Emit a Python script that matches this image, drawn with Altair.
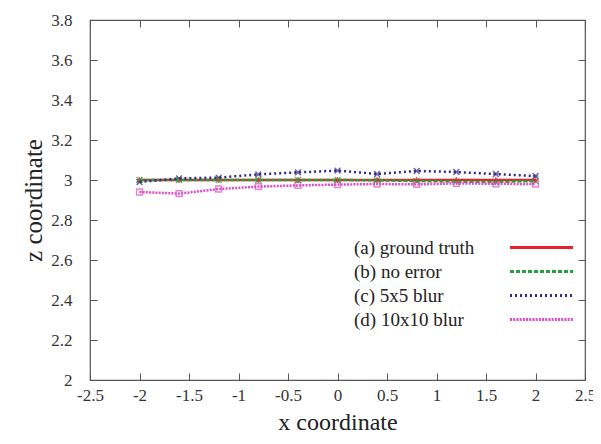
import altair as alt
import pandas as pd

x_vals = [-2.0, -1.6, -1.2, -0.8, -0.4, 0.0, 0.4, 0.8, 1.2, 1.6, 2.0]
series_labels = ["(a) ground truth", "(b) no error", "(c) 5x5 blur", "(d) 10x10 blur"]
z_ground = [3.0, 3.0, 3.0, 3.0, 3.0, 3.0, 3.0, 3.0, 3.0, 3.0, 3.0]
z_noerr = [3.0, 3.0, 3.0, 3.0, 3.0, 3.0, 2.998, 2.995, 2.992, 2.99, 2.995]
z_blur5 = [2.99, 3.008, 3.012, 3.028, 3.038, 3.047, 3.03, 3.045, 3.04, 3.03, 3.02]
z_blur10 = [2.94, 2.932, 2.955, 2.967, 2.973, 2.977, 2.98, 2.978, 2.983, 2.981, 2.98]

colors = ["#e8222a", "#22a040", "#2b2b8c", "#e04cc4"]
dashes = [[1, 0], [4, 2], [2, 3], [2, 1.2]]
widths = [3, 3, 2.5, 2]
marker_shapes = [
    "M-1,0L1,0M0,-1L0,1",
    "M-1,-1L1,1M-1,1L1,-1",
    "M-1,-1L1,1M-1,1L1,-1M-1,0L1,0",
    "square",
]

rows = []
for lab, vals in zip(series_labels, [z_ground, z_noerr, z_blur5, z_blur10]):
    for xv, zv in zip(x_vals, vals):
        rows.append({"x": xv, "z": zv, "series": lab})
df = pd.DataFrame(rows)

FONT = "Liberation Serif"
AXFONT = "Liberation Serif, Times New Roman, serif"
xscale = alt.Scale(domain=[-2.5, 2.5], nice=False, zero=False)
yscale = alt.Scale(domain=[2.0, 3.8], nice=False, zero=False)
x_ticks = [-2.5, -2, -1.5, -1, -0.5, 0, 0.5, 1, 1.5, 2, 2.5]
y_ticks = [2.0, 2.2, 2.4, 2.6, 2.8, 3.0, 3.2, 3.4, 3.6, 3.8]

NEG_TICK = {"expr": "-7"}
LBL = "replace(datum.label, '\u2212', '-')"
x_axis = alt.Axis(values=x_ticks, orient="bottom", tickSize=NEG_TICK, domain=False,
                  grid=False, labelPadding=14, labelFontSize=17, labelFont=AXFONT, format="~g",
                  labelExpr=LBL,
                  labelColor="#333", tickColor="#555", title="x coordinate",
                  titleFont=AXFONT, titleFontSize=24, titleFontWeight="normal",
                  titleColor="#222", titlePadding=7, labelFlush=False, labelOverlap=False)
y_axis = alt.Axis(values=y_ticks, orient="left", tickSize=NEG_TICK, domain=False,
                  grid=False, labelPadding=25, labelFontSize=17, labelFont=AXFONT, format="~g",
                  labelExpr=LBL,
                  labelColor="#333", tickColor="#555", title="z coordinate",
                  titleFont=AXFONT, titleFontSize=25, titleFontWeight="normal",
                  titleColor="#222", titlePadding=4, labelFlush=False, labelOverlap=False)

base = alt.Chart(df)

lines = base.mark_line(strokeWidth=2.5).encode(
    x=alt.X("x:Q", scale=xscale, axis=x_axis),
    y=alt.Y("z:Q", scale=yscale, axis=y_axis),
    color=alt.Color("series:N", scale=alt.Scale(domain=series_labels, range=colors),
                    legend=alt.Legend(title=None, orient="none", legendX=442, legendY=218,
                                      symbolType="M-8,0L8,0", symbolSize=62, symbolStrokeWidth=3,
                                      labelFont=FONT, labelFontSize=19, labelColor="#222",
                                      labelAlign="left", labelOffset={"expr": "-197"},
                                      rowPadding=4, labelLimit=300)),
    strokeDash=alt.StrokeDash("series:N", scale=alt.Scale(domain=series_labels, range=dashes)),
    strokeWidth=alt.StrokeWidth("series:N", scale=alt.Scale(domain=series_labels, range=widths), legend=None),
)

pt_layers = []
for lab, c, shp in zip(series_labels, colors, marker_shapes):
    pt_layers.append(
        base.transform_filter(alt.datum.series == lab).mark_point(
            shape=shp, color=c, size=34, strokeWidth=1.5, filled=False
        ).encode(x=alt.X("x:Q", scale=xscale, axis=None), y=alt.Y("z:Q", scale=yscale, axis=None))
    )

mirror = base.mark_point(opacity=0).encode(
    x=alt.X("x:Q", scale=xscale, axis=alt.Axis(values=x_ticks, orient="top", tickSize=NEG_TICK,
                                               domain=False, grid=False, labels=False, title=None,
                                               tickColor="#555")),
    y=alt.Y("z:Q", scale=yscale, axis=alt.Axis(values=y_ticks, orient="right", tickSize=NEG_TICK,
                                               domain=False, grid=False, labels=False, title=None,
                                               tickColor="#555")),
)

chart = alt.layer(mirror, *pt_layers[::-1], lines).resolve_scale(
    x="independent", y="independent"
).resolve_axis(
    x="independent", y="independent"
).properties(
    width=495, height=360,
    autosize=alt.AutoSizeParams(type="none"),
    padding={"left": 82, "top": 12, "right": 8, "bottom": 56},
).configure(
    background="white", font=FONT
).configure_axis(
    labelFont=AXFONT, titleFont=AXFONT
).configure_view(stroke="#555", strokeWidth=1.2)

chart.save("out.html", embed_options={"renderer": "svg", "actions": False})
